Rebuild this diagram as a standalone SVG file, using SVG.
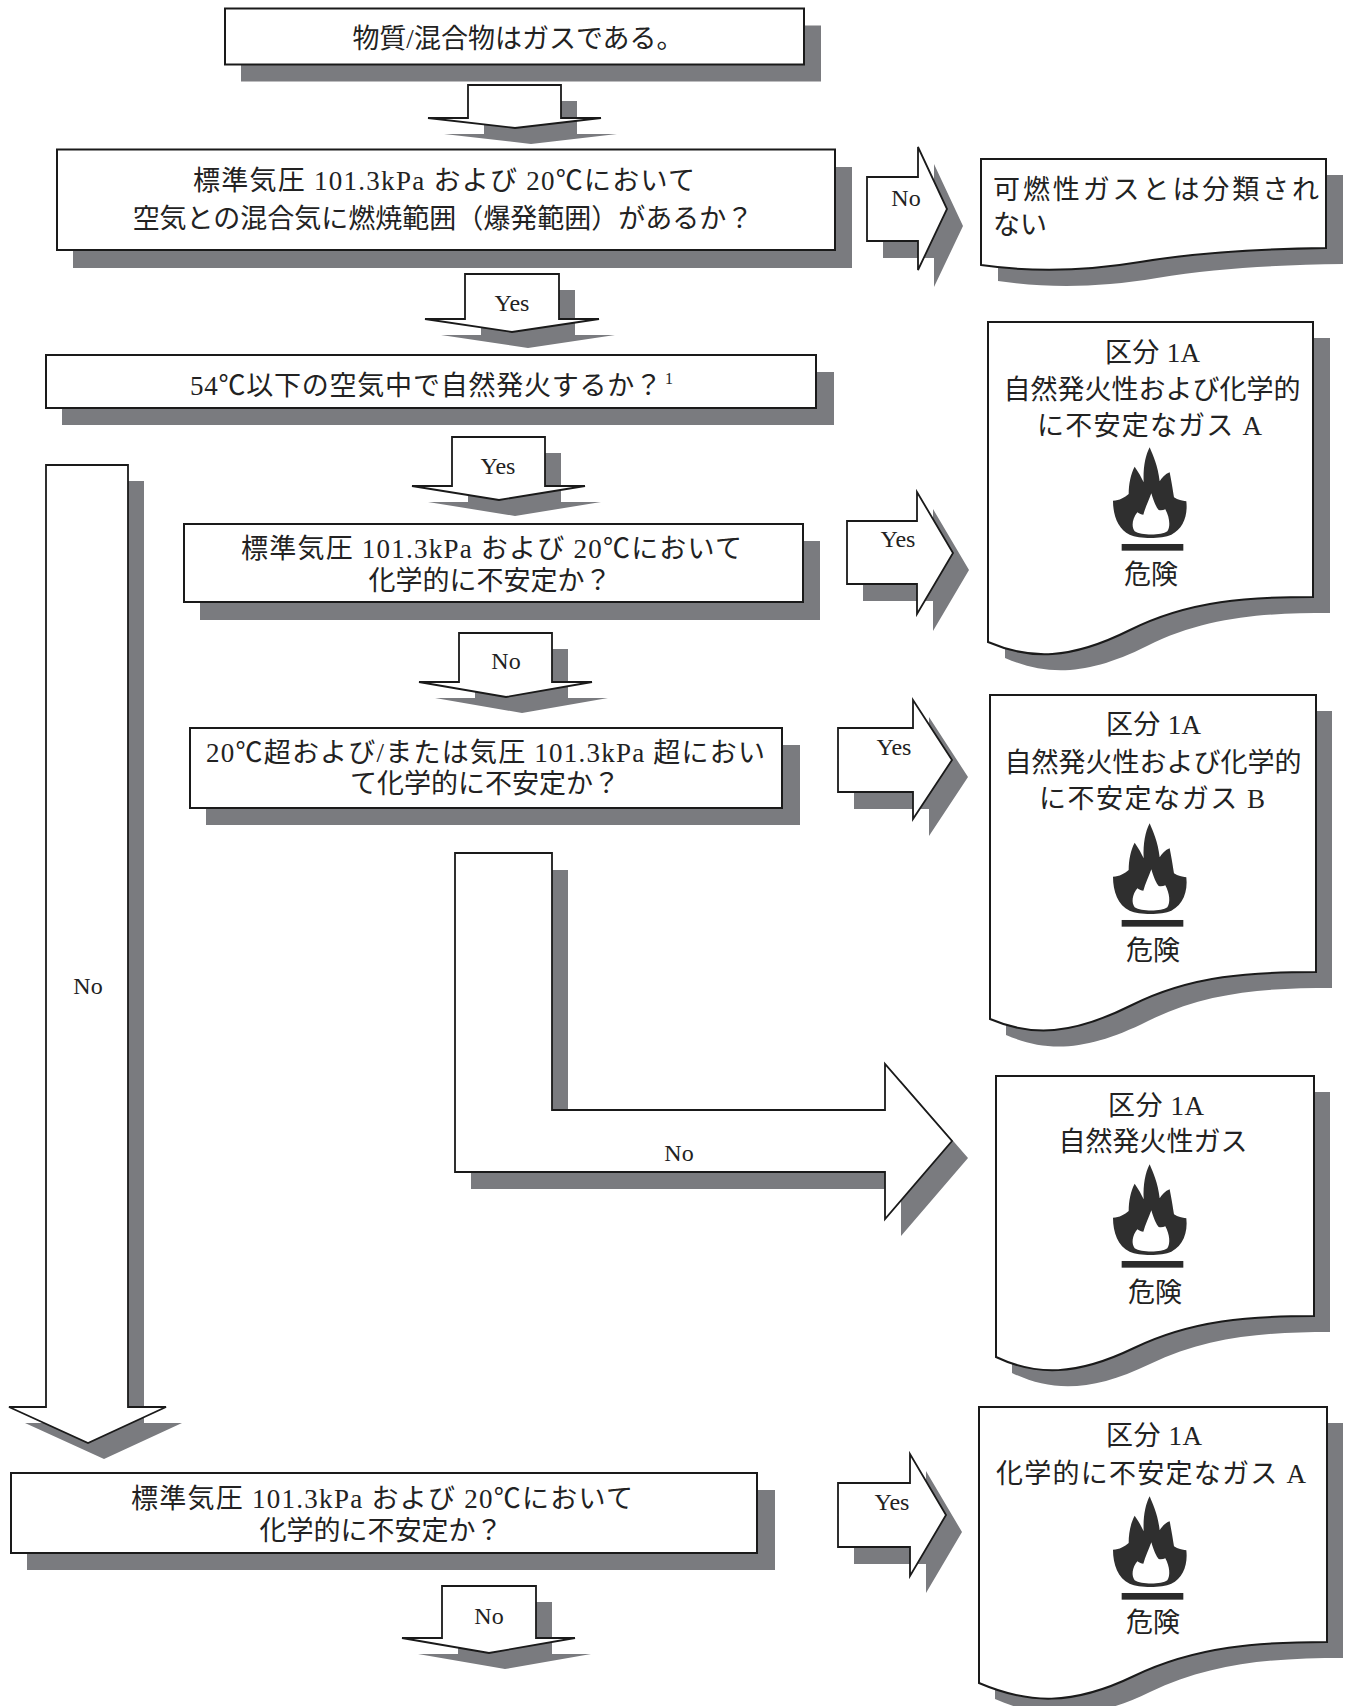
<svg xmlns="http://www.w3.org/2000/svg" xmlns:xlink="http://www.w3.org/1999/xlink" width="1346" height="1706" viewBox="0 0 1346 1706">
<style>
.bx{fill:#fff;stroke:#1a1a1a;stroke-width:2}
.ar{fill:#fff;stroke:#1a1a1a;stroke-width:1.8;stroke-linejoin:miter}
.sh{fill:#7a7b7f}
.t{font-family:"Liberation Serif","Noto Sans CJK JP",serif;font-size:27px;fill:#222}
.m{text-anchor:middle}
.lb{font-family:"Liberation Serif","Noto Sans CJK JP",serif;font-size:24px;fill:#222;text-anchor:middle}
</style>
<defs>
<g id="flame">
<g transform="translate(24,12)">
<path fill="#2f2f2f" d="M125,10 C135,35 150,65 155,112 C162,100 172,90 185,85 C190,110 195,140 198,160 C210,168 222,170 235,172 C240,215 225,255 190,272 C160,285 95,285 65,272 C30,255 15,215 15,170 C35,170 50,160 62,150 C62,120 68,90 80,68 C92,85 100,100 107,115 C105,70 112,35 125,10 Z"/>
<path fill="#fff" d="M130,148 C138,175 145,190 152,198 C160,200 166,198 172,196 C185,220 188,248 178,262 C160,275 100,275 80,262 C70,248 72,225 88,205 C95,210 100,212 106,212 C112,190 122,170 130,148 Z"/>
</g>
<rect x="65" y="312" width="185" height="20" fill="#2a2a2a"/>
</g>
</defs>
<rect width="1346" height="1706" fill="#fff"/>

<g id="connectors">
<g id="arrow-d1">
<polygon class="sh" transform="translate(16,16)" points="468,85 561,85 561,118 601,118 515,128 428,118 468,118"/>
<polygon class="ar" points="468,85 561,85 561,118 601,118 515,128 428,118 468,118"/>
</g>
<g id="arrow-r-no1">
<polygon class="sh" transform="translate(16,17)" points="867,177 918,177 918,147 947,209 918,270 918,241 867,241"/>
<polygon class="ar" points="867,177 918,177 918,147 947,209 918,270 918,241 867,241"/>
<text class="lb" x="906" y="206">No</text>
</g>
<g id="arrow-d2">
<polygon class="sh" transform="translate(16,16)" points="465,274 559,274 559,319 599,319 512,332 425,319 465,319"/>
<polygon class="ar" points="465,274 559,274 559,319 599,319 512,332 425,319 465,319"/>
<text class="lb" x="512" y="311">Yes</text>
</g>
<g id="arrow-d3">
<polygon class="sh" transform="translate(16,16)" points="452,437 545,437 545,486 585,486 499,500 412,486 452,486"/>
<polygon class="ar" points="452,437 545,437 545,486 585,486 499,500 412,486 452,486"/>
<text class="lb" x="498" y="474">Yes</text>
</g>
<g id="arrow-r-yes1">
<polygon class="sh" transform="translate(16,17)" points="847,521 917,521 917,492 953,553 917,614 917,584 847,584"/>
<polygon class="ar" points="847,521 917,521 917,492 953,553 917,614 917,584 847,584"/>
<text class="lb" x="898" y="547">Yes</text>
</g>
<g id="arrow-d4">
<polygon class="sh" transform="translate(16,16)" points="459,633 552,633 552,682 592,682 506,697 419,682 459,682"/>
<polygon class="ar" points="459,633 552,633 552,682 592,682 506,697 419,682 459,682"/>
<text class="lb" x="506" y="669">No</text>
</g>
<g id="arrow-r-yes2">
<polygon class="sh" transform="translate(16,17)" points="838,728 913,728 913,700 952,760 913,819 913,792 838,792"/>
<polygon class="ar" points="838,728 913,728 913,700 952,760 913,819 913,792 838,792"/>
<text class="lb" x="894" y="755">Yes</text>
</g>
<g id="arrow-l-no">
<polygon class="sh" transform="translate(16,17)" points="455,853 552,853 552,1110 885,1110 885,1064 952,1141 885,1219 885,1172 455,1172"/>
<polygon class="ar" points="455,853 552,853 552,1110 885,1110 885,1064 952,1141 885,1219 885,1172 455,1172"/>
<text class="lb" x="679" y="1161">No</text>
</g>
<g id="arrow-d5">
<polygon class="sh" transform="translate(16,16)" points="46,465 128,465 128,1407 166,1407 88,1443 9,1407 46,1407"/>
<polygon class="ar" points="46,465 128,465 128,1407 166,1407 88,1443 9,1407 46,1407"/>
<text class="lb" x="88" y="994">No</text>
</g>
<g id="arrow-r-yes3">
<polygon class="sh" transform="translate(16,17)" points="838,1483 910,1483 910,1454 946,1515 910,1576 910,1547 838,1547"/>
<polygon class="ar" points="838,1483 910,1483 910,1454 946,1515 910,1576 910,1547 838,1547"/>
<text class="lb" x="892" y="1510">Yes</text>
</g>
<g id="arrow-d6">
<polygon class="sh" transform="translate(16,16)" points="442,1586 536,1586 536,1638 575,1638 489,1653 402,1638 442,1638"/>
<polygon class="ar" points="442,1586 536,1586 536,1638 575,1638 489,1653 402,1638 442,1638"/>
<text class="lb" x="489" y="1624">No</text>
</g>
</g>

<g id="node-start">
<rect class="sh" x="241" y="25.5" width="580" height="56"/>
<rect class="bx" x="225" y="8.5" width="579" height="56"/>
<text class="t m" x="518" y="48">物質/混合物はガスである。</text>
</g>

<g id="node-q1">
<rect class="sh" x="73" y="167" width="779" height="101"/>
<rect class="bx" x="57" y="149.5" width="778" height="100.5"/>
<text class="t" x="193" y="190" textLength="502" lengthAdjust="spacing">標準気圧 101.3kPa および 20℃において</text>
<text class="t m" x="443" y="228">空気との混合気に燃焼範囲（爆発範囲）があるか？</text>
</g>

<g id="node-not-flammable">
<path class="sh" transform="translate(17,16)" d="M981,159 H1326 V248 C1260,249 1200,252 1140,262 C1080,272 1030,272 981,265 Z"/>
<path class="bx" d="M981,159 H1326 V248 C1260,249 1200,252 1140,262 C1080,272 1030,272 981,265 Z"/>
<text class="t" x="993" y="199" textLength="326" lengthAdjust="spacing">可燃性ガスとは分類され</text>
<text class="t" x="993" y="234">ない</text>
</g>

<g id="node-q2">
<rect class="sh" x="62" y="372" width="772" height="53"/>
<rect class="bx" x="46" y="355" width="770" height="53"/>
<text class="t" x="190" y="395" textLength="472" lengthAdjust="spacing">54℃以下の空気中で自然発火するか？</text>
<text x="665" y="384" style="font-family:'Liberation Serif',serif;font-size:16px;fill:#222">1</text>
</g>

<g id="node-1a-pyro-unstable-a">
<path class="sh" transform="translate(17,16)" d="M988,322 H1313 V597 C1250,597 1190,600 1130,630 C1070,660 1030,660 988,642 Z"/>
<path class="bx" d="M988,322 H1313 V597 C1250,597 1190,600 1130,630 C1070,660 1030,660 988,642 Z"/>
<text class="t" x="1105" y="362" textLength="95" lengthAdjust="spacing">区分 1A</text>
<text class="t m" x="1152" y="399">自然発火性および化学的</text>
<text class="t" x="1037" y="435" textLength="225" lengthAdjust="spacing">に不安定なガス A</text>
<use xlink:href="#flame" href="#flame" transform="translate(1100,440) scale(0.3333)"/>
<text class="t m" x="1151" y="584">危険</text>
</g>

<g id="node-q3">
<rect class="sh" x="200" y="541" width="620" height="79"/>
<rect class="bx" x="184" y="524" width="619" height="78"/>
<text class="t" x="241" y="558" textLength="501" lengthAdjust="spacing">標準気圧 101.3kPa および 20℃において</text>
<text class="t m" x="490" y="590">化学的に不安定か？</text>
</g>

<g id="node-q4">
<rect class="sh" x="206" y="745" width="594" height="80"/>
<rect class="bx" x="190" y="728" width="592" height="80"/>
<text class="t" x="206" y="762" textLength="559" lengthAdjust="spacing">20℃超および/または気圧 101.3kPa 超におい</text>
<text class="t m" x="485" y="793">て化学的に不安定か？</text>
</g>

<g id="node-1a-pyro-unstable-b">
<path class="sh" transform="translate(16,16)" d="M990,695 H1316 V972 C1252,972 1192,975 1132,1005 C1072,1035 1032,1037 990,1019 Z"/>
<path class="bx" d="M990,695 H1316 V972 C1252,972 1192,975 1132,1005 C1072,1035 1032,1037 990,1019 Z"/>
<text class="t" x="1106" y="734" textLength="95" lengthAdjust="spacing">区分 1A</text>
<text class="t m" x="1153" y="772">自然発火性および化学的</text>
<text class="t" x="1039" y="808" textLength="226" lengthAdjust="spacing">に不安定なガス B</text>
<use xlink:href="#flame" href="#flame" transform="translate(1100,816) scale(0.3333)"/>
<text class="t m" x="1153" y="960">危険</text>
</g>

<g id="node-1a-pyro">
<path class="sh" transform="translate(16,16)" d="M996,1076 H1314 V1316 C1250,1316 1192,1320 1134,1348 C1076,1376 1036,1376 996,1357 Z"/>
<path class="bx" d="M996,1076 H1314 V1316 C1250,1316 1192,1320 1134,1348 C1076,1376 1036,1376 996,1357 Z"/>
<text class="t" x="1108" y="1115" textLength="96" lengthAdjust="spacing">区分 1A</text>
<text class="t m" x="1153" y="1151">自然発火性ガス</text>
<use xlink:href="#flame" href="#flame" transform="translate(1100,1157) scale(0.3333)"/>
<text class="t m" x="1155" y="1302">危険</text>
</g>

<g id="node-q5">
<rect class="sh" x="27" y="1490" width="748" height="80"/>
<rect class="bx" x="11" y="1473" width="746" height="80"/>
<text class="t" x="131" y="1508" textLength="502" lengthAdjust="spacing">標準気圧 101.3kPa および 20℃において</text>
<text class="t m" x="381" y="1540">化学的に不安定か？</text>
</g>

<g id="node-1a-unstable-a">
<path class="sh" transform="translate(16,16)" d="M979,1407 H1327 V1642 C1260,1642 1196,1646 1134,1676 C1072,1706 1028,1704 979,1683 Z"/>
<path class="bx" d="M979,1407 H1327 V1642 C1260,1642 1196,1646 1134,1676 C1072,1706 1028,1704 979,1683 Z"/>
<text class="t" x="1106" y="1445" textLength="96" lengthAdjust="spacing">区分 1A</text>
<text class="t" x="996" y="1483" textLength="310" lengthAdjust="spacing">化学的に不安定なガス A</text>
<use xlink:href="#flame" href="#flame" transform="translate(1100,1489) scale(0.3333)"/>
<text class="t m" x="1153" y="1632">危険</text>
</g>
</svg>
